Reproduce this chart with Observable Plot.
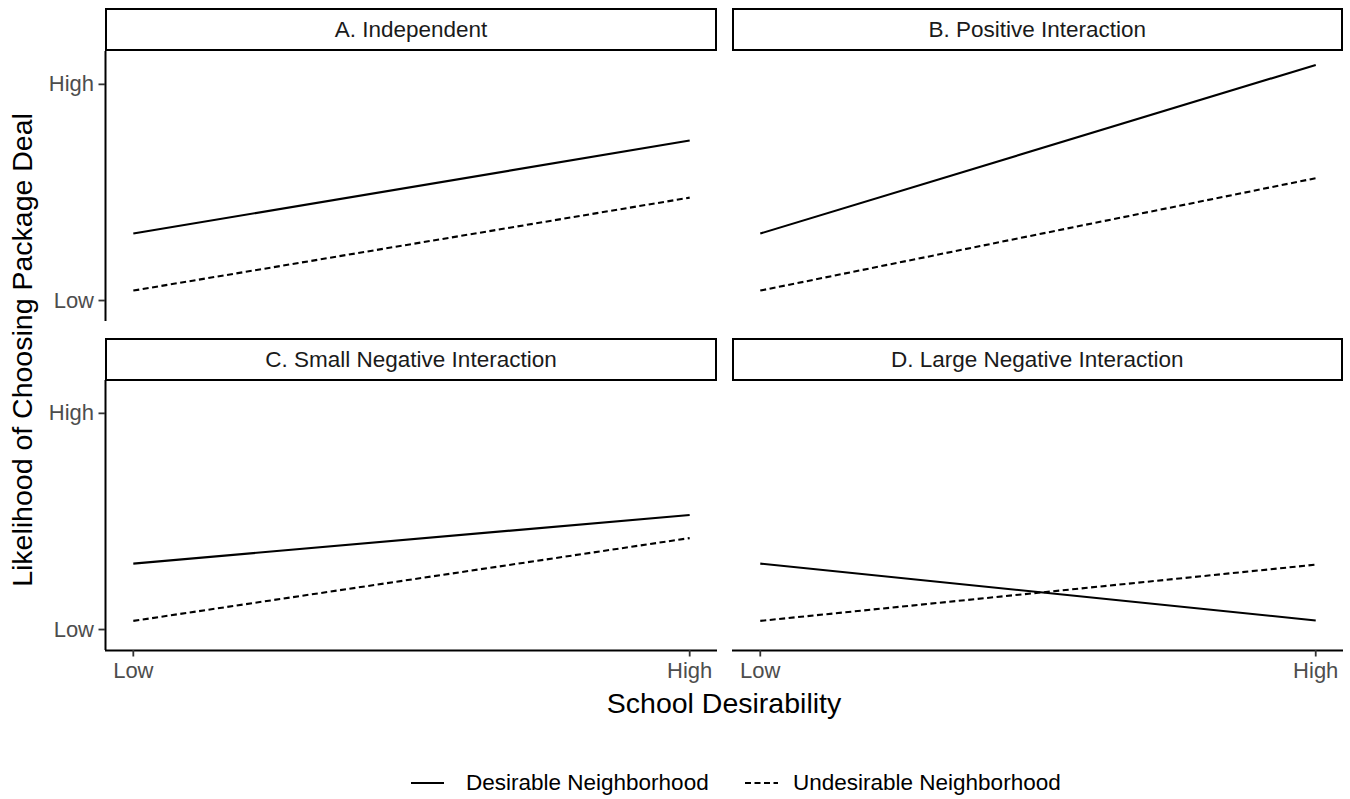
<!DOCTYPE html>
<html><head><meta charset="utf-8">
<script src="https://cdn.jsdelivr.net/npm/d3@7"></script>
<script src="https://cdn.jsdelivr.net/npm/@observablehq/plot@0.6"></script>
<style>
body{margin:0;background:#fff;}
#root{position:relative;width:1350px;height:799px;font-family:"Liberation Sans",Arial,sans-serif;overflow:hidden;background:#fff;}
.panel{position:absolute;}
.panel svg{background:transparent;overflow:visible;}
.strip{position:absolute;box-sizing:border-box;border:2px solid #000;background:#fff;font-size:22.5px;color:#1a1a1a;display:flex;align-items:center;justify-content:center;white-space:nowrap;}
.txt{position:absolute;white-space:nowrap;line-height:1.117;}
</style></head><body><div id="root"></div>
<script>
// ---- data ----
const panelTitles = ["A. Independent", "B. Positive Interaction", "C. Small Negative Interaction", "D. Large Negative Interaction"];
const schoolLevels = [0, 1];
const schoolLabels = ["Low", "High"];
const likelihoodTicks = [0, 1];
const likelihoodLabels = ["Low", "High"];
const neighborhoods = ["Desirable Neighborhood", "Undesirable Neighborhood"];
// likelihood at [Low school, High school] for each panel
const desirableValues = [[0.31, 0.74], [0.31, 1.09], [0.305, 0.53], [0.305, 0.042]];
const undesirableValues = [[0.046, 0.476], [0.046, 0.566], [0.04, 0.423], [0.04, 0.30]];

// ---- layout ----
const root = document.getElementById("root");
const FONT = '"Liberation Sans", Arial, sans-serif';
const rowTop = [51, 380];
const stripTop = [8, 338];
const panelH = 270;
const cols = [
  {svgLeft: 0, width: 717, marginLeft: 105, stripLeft: 105, stripW: 612},
  {svgLeft: 717, width: 626, marginLeft: 15, stripLeft: 731.5, stripW: 611.5}
];
const xDomain = [-0.05, 1.05];
const yDomain = [-0.097, 1.152];
const DASH = "6,3.5";

panelTitles.forEach((title, p) => {
  const r = Math.floor(p / 2), c = p % 2;
  const col = cols[c];
  const isLeft = c === 0, isBottom = r === 1;
  const toRows = (vals, nb) => schoolLevels.map((s, i) => ({school: s, likelihood: vals[p][i], neighborhood: nb}));
  const des = toRows(desirableValues, neighborhoods[0]);
  const und = toRows(undesirableValues, neighborhoods[1]);
  const marks = [];
  if (isLeft) {
    marks.push(Plot.ruleX([xDomain[0]], {stroke: "#000", strokeWidth: 2}));
    marks.push(Plot.axisY(likelihoodTicks, {
      tickFormat: d => likelihoodLabels[likelihoodTicks.indexOf(d)],
      tickSize: 6.5, tickPadding: 5, fontSize: 22, fill: "#4d4d4d", stroke: "#333", strokeWidth: 1.8, label: null
    }));
  }
  if (isBottom) {
    marks.push(Plot.ruleY([yDomain[0]], {stroke: "#000", strokeWidth: 2}));
    marks.push(Plot.axisX(schoolLevels, {
      tickFormat: d => schoolLabels[schoolLevels.indexOf(d)],
      tickSize: 6.5, tickPadding: 5, fontSize: 22, fill: "#4d4d4d", stroke: "#333", strokeWidth: 1.8, label: null
    }));
  }
  marks.push(Plot.line(des, {x: "school", y: "likelihood", stroke: "#000", strokeWidth: 2.1, strokeLinecap: "butt"}));
  marks.push(Plot.line(und, {x: "school", y: "likelihood", stroke: "#000", strokeWidth: 2.1, strokeLinecap: "butt", strokeDasharray: DASH}));
  const chart = Plot.plot({
    width: col.width,
    height: panelH + (isBottom ? 45 : 0),
    marginLeft: col.marginLeft, marginRight: 0, marginTop: 0, marginBottom: isBottom ? 45 : 0,
    x: {domain: xDomain, axis: null},
    y: {domain: yDomain, axis: null},
    style: {fontFamily: FONT, background: "transparent", overflow: "visible"},
    marks
  });
  const wrap = document.createElement("div");
  wrap.className = "panel";
  wrap.style.left = col.svgLeft + "px";
  wrap.style.top = rowTop[r] + "px";
  wrap.appendChild(chart);
  root.appendChild(wrap);

  const strip = document.createElement("div");
  strip.className = "strip";
  strip.style.left = col.stripLeft + "px";
  strip.style.top = stripTop[r] + "px";
  strip.style.width = col.stripW + "px";
  strip.style.height = "43px";
  strip.textContent = title;
  root.appendChild(strip);
});

// axis titles
const yTitle = document.createElement("div");
yTitle.className = "txt";
yTitle.textContent = "Likelihood of Choosing Package Deal";
Object.assign(yTitle.style, {left: "23px", top: "350px", fontSize: "28.5px", color: "#000", transform: "translate(-50%,-50%) rotate(-90deg)"});
root.appendChild(yTitle);

const xTitle = document.createElement("div");
xTitle.className = "txt";
xTitle.textContent = "School Desirability";
Object.assign(xTitle.style, {left: "724px", top: "704px", fontSize: "28.5px", color: "#000", transform: "translate(-50%,-50%)"});
root.appendChild(xTitle);

// legend
const legendY = 783;
const keyDefs = [
  {label: neighborhoods[0], keyLeft: 411, textLeft: 466, dash: null},
  {label: neighborhoods[1], keyLeft: 745, textLeft: 793, dash: DASH}
];
keyDefs.forEach(k => {
  const svg = d3.create("svg").attr("width", 34).attr("height", 10)
    .style("position", "absolute").style("left", k.keyLeft + "px").style("top", (legendY - 5) + "px");
  const ln = svg.append("line").attr("x1", 0).attr("x2", 33).attr("y1", 5).attr("y2", 5)
    .attr("stroke", "#000").attr("stroke-width", 2.1);
  if (k.dash) ln.attr("stroke-dasharray", k.dash);
  root.appendChild(svg.node());
  const t = document.createElement("div");
  t.className = "txt";
  t.textContent = k.label;
  Object.assign(t.style, {left: k.textLeft + "px", top: legendY + "px", fontSize: "22.5px", color: "#000", transform: "translateY(-50%)"});
  root.appendChild(t);
});
</script></body></html>
